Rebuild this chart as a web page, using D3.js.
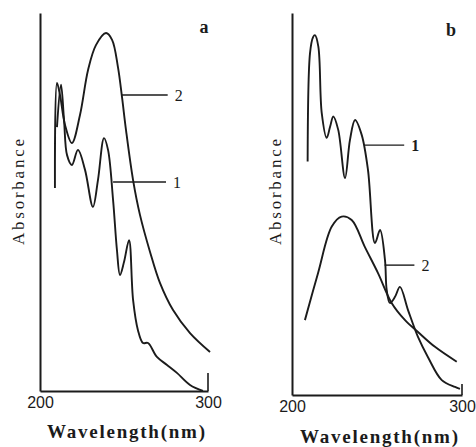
<!DOCTYPE html>
<html>
<head>
<meta charset="utf-8">
<script src="https://cdn.jsdelivr.net/npm/d3@7"></script>
<style>
  body { margin: 0; background: #fff; }
  svg { display: block; }
</style>
</head>
<body>
<div id="chart"></div>
<script>
// panel a, curve 1
var waveA1 = [210.1, 212.5, 214.3, 216.1, 219.0, 222.6, 226.8, 231.5, 234.5, 238.1, 240.5, 243.5, 245.8, 247.6, 250.0, 253.0, 255.4, 258.3, 261.3, 264.3, 269.6, 275.6, 281.5, 289.3, 297.0];
var absA1  = [0.698, 0.810, 0.717, 0.624, 0.598, 0.638, 0.585, 0.487, 0.558, 0.669, 0.638, 0.505, 0.373, 0.307, 0.341, 0.399, 0.241, 0.161, 0.127, 0.127, 0.090, 0.069, 0.048, 0.016, 0.0];
// panel a, curve 2
var waveA2 = [208.9, 210.1, 211.9, 214.9, 219.0, 223.8, 228.6, 233.3, 239.3, 242.9, 246.4, 248.8, 251.2, 255.4, 259.5, 265.5, 271.4, 279.2, 289.3, 301.2];
var absA2  = [0.537, 0.815, 0.783, 0.704, 0.656, 0.730, 0.849, 0.915, 0.947, 0.929, 0.857, 0.778, 0.690, 0.558, 0.466, 0.368, 0.286, 0.214, 0.153, 0.103];
// panel b, curve 1
var waveB1 = [209.2, 210.6, 212.4, 213.5, 215.5, 217.5, 220.4, 222.4, 224.3, 227.2, 231.2, 234.1, 237.1, 241.0, 244.7, 248.8, 251.8, 254.7, 255.7, 257.6, 260.6, 263.5, 268.2, 274.1, 280.0, 288.1, 295.9, 298.8];
var absB1  = [0.611, 0.895, 0.937, 0.942, 0.912, 0.738, 0.673, 0.702, 0.729, 0.694, 0.568, 0.668, 0.720, 0.681, 0.589, 0.398, 0.432, 0.353, 0.275, 0.241, 0.257, 0.283, 0.223, 0.152, 0.099, 0.039, 0.021, 0.016];
// panel b, curve 2
var waveB2 = [207.6, 215.3, 223.4, 229.2, 235.1, 242.9, 250.6, 258.6, 266.5, 274.1, 284.1, 296.9];
var absB2  = [0.196, 0.319, 0.441, 0.467, 0.458, 0.387, 0.319, 0.241, 0.196, 0.165, 0.126, 0.087];

var xTicks = [200, 300];
var xTitle = "Wavelength(nm)";
var yTitle = "Absorbance";

var ink = "#1b1b1b";
var serif = "'Liberation Serif', 'DejaVu Serif', serif";

var svg = d3.select("#chart").append("svg")
   .attr("width", 476)
   .attr("height", 447);

svg.append("rect").attr("width", 476).attr("height", 447).attr("fill", "#fff");

function zip(w, a) {
   return w.map((d, i) => ({ wl: d, abs: a[i] }));
}

function drawPanel(p) {
   var x = d3.scaleLinear().domain([200, 300]).range([p.left, p.right]);
   var y = d3.scaleLinear().domain([0, 1]).range([p.bottom, p.top]);
   var g = svg.append("g");

   // bottom axis with the two tick labels
   var xAxis = g.append("g")
      .attr("transform", "translate(0," + p.bottom + ")")
      .call(d3.axisBottom(x).tickValues(xTicks).tickSize(0).tickSizeOuter(0).tickPadding(6).tickFormat(d3.format("d")));
   xAxis.select(".domain").attr("stroke", ink).attr("stroke-width", 2);
   xAxis.selectAll("text")
      .attr("fill", ink)
      .style("font-family", "'Liberation Sans', Arial, sans-serif")
      .style("font-size", "16px");

   // left axis, no ticks
   var yAxis = g.append("g")
      .attr("transform", "translate(" + p.left + ",0)")
      .call(d3.axisLeft(y).tickValues([]).tickSizeOuter(0));
   yAxis.select(".domain").attr("stroke", ink).attr("stroke-width", 2);

   // short end mark at 300
   g.append("line")
      .attr("x1", x(300)).attr("x2", x(300))
      .attr("y1", p.bottom).attr("y2", p.bottom - p.endMark)
      .attr("stroke", ink).attr("stroke-width", 1.6);

   var line = d3.line()
      .x(d => x(d.wl))
      .y(d => y(d.abs))
      .curve(d3.curveCatmullRom.alpha(0.5));

   p.curves.forEach(c => {
      g.append("path")
         .datum(zip(c.wave, c.abs))
         .attr("d", line)
         .attr("fill", "none")
         .attr("stroke", ink)
         .attr("stroke-width", 1.9)
         .attr("stroke-linejoin", "round");
   });

   // curve labels with leader lines
   p.labels.forEach(l => {
      g.append("line")
         .attr("x1", x(l.from)).attr("x2", x(l.to))
         .attr("y1", y(l.at)).attr("y2", y(l.at))
         .attr("stroke", ink).attr("stroke-width", 1.4);
      g.append("text")
         .attr("x", x(l.to) + 7)
         .attr("y", y(l.at) + 6)
         .attr("fill", ink)
         .style("font-family", serif)
         .style("font-size", "16px")
         .style("font-weight", l.bold ? "bold" : "normal")
         .text(l.text);
   });

   // panel letter
   g.append("text")
      .attr("x", p.letterX).attr("y", p.letterY)
      .attr("text-anchor", "middle")
      .attr("fill", ink)
      .style("font-family", serif)
      .style("font-size", "18px")
      .style("font-weight", "bold")
      .text(p.letter);

   // axis titles
   g.append("text")
      .attr("x", (p.left + p.right) / 2 + 2)
      .attr("y", p.titleY)
      .attr("text-anchor", "middle")
      .attr("textLength", 158)
      .attr("lengthAdjust", "spacing")
      .attr("fill", ink)
      .style("font-family", serif)
      .style("font-size", "19px")
      .style("font-weight", "bold")
      .text(xTitle);

   g.append("text")
      .attr("transform", "translate(" + p.yTitleX + ",192) rotate(-90)")
      .attr("text-anchor", "middle")
      .attr("textLength", 106)
      .attr("lengthAdjust", "spacing")
      .attr("fill", ink)
      .style("font-family", serif)
      .style("font-size", "17px")
      .text(yTitle);
}

drawPanel({
   left: 40, right: 208, top: 13, bottom: 391, endMark: 18,
   letter: "a", letterX: 204, letterY: 33,
   titleY: 438, yTitleX: 24,
   curves: [
      { wave: waveA1, abs: absA1 },
      { wave: waveA2, abs: absA2 }
   ],
   labels: [
      { text: "2", at: 0.783, from: 248.8, to: 276, bold: false },
      { text: "1", at: 0.553, from: 243.5, to: 275, bold: false }
   ]
});

drawPanel({
   left: 292, right: 462, top: 13, bottom: 395, endMark: 11,
   letter: "b", letterX: 451, letterY: 36,
   titleY: 443, yTitleX: 281,
   curves: [
      { wave: waveB1, abs: absB1 },
      { wave: waveB2, abs: absB2 }
   ],
   labels: [
      { text: "1", at: 0.654, from: 242.5, to: 266, bold: true },
      { text: "2", at: 0.340, from: 254.5, to: 272, bold: false }
   ]
});
</script>
</body>
</html>
